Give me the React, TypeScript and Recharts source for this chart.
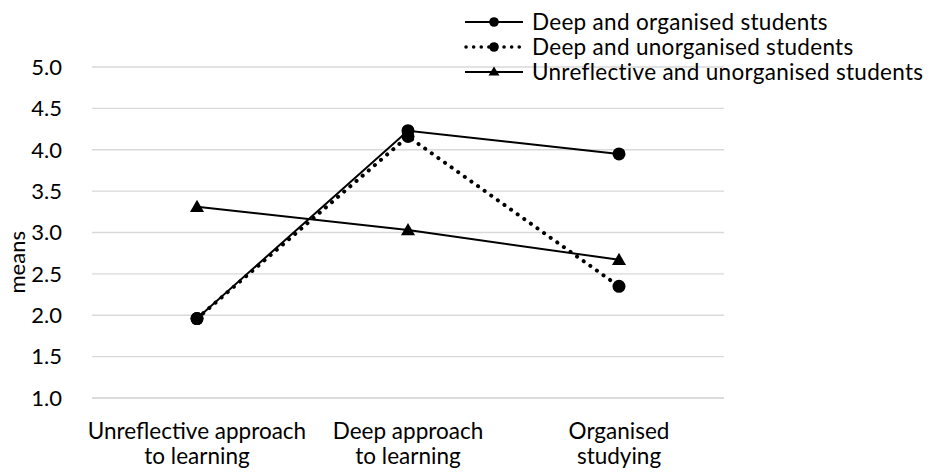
import React from 'react';
import { LineChart, Line, XAxis, YAxis, CartesianGrid } from 'recharts';

const categories = [
  ['Unreflective approach', 'to learning'],
  ['Deep approach', 'to learning'],
  ['Organised', 'studying'],
];
const deepOrganised = [1.96, 4.23, 3.95];
const deepUnorganised = [1.96, 4.16, 2.35];
const unreflectiveUnorganised = [3.31, 3.03, 2.67];
const yTicks = [1.0, 1.5, 2.0, 2.5, 3.0, 3.5, 4.0, 4.5, 5.0];

const seriesNames = [
  'Deep and organised students',
  'Deep and unorganised students',
  'Unreflective and unorganised students',
];

const data = categories.map((c, i) => ({
  key: String(i),
  a: deepOrganised[i],
  b: deepUnorganised[i],
  c: unreflectiveUnorganised[i],
}));

const FONT = 'Lato, "Open Sans", sans-serif';

const Circle = (props: any) => {
  const { cx, cy } = props;
  if (cx == null || cy == null) return null;
  return <circle cx={cx} cy={cy} r={6.5} fill="#000" />;
};

const Triangle = (props: any) => {
  const { cx, cy } = props;
  if (cx == null || cy == null) return null;
  const s = 7;
  return <path d={`M${cx},${cy - s} L${cx + s},${cy + s * 0.75} L${cx - s},${cy + s * 0.75} Z`} fill="#000" />;
};

const XTick = (props: any) => {
  const { x, y, payload } = props;
  const lines = categories[Number(payload.value)];
  return (
    <text x={x} y={y} textAnchor="middle" fill="#000" fontSize={22.5} fontFamily={FONT}>
      {lines.map((l, i) => (
        <tspan key={i} x={x} dy={i === 0 ? 33 : 25}>{l}</tspan>
      ))}
    </text>
  );
};

// legend drawn on top of the chart, like the original's overlapping box
const ChartLegend = () => (
  <div style={{ position: 'absolute', left: 463, top: 9, fontFamily: FONT, fontSize: 22.5, letterSpacing: 0.3, color: '#000' }}>
    {seriesNames.map((n, i) => (
      <div key={n} style={{ display: 'flex', alignItems: 'center', height: 25, whiteSpace: 'nowrap' }}>
        <svg width={62} height={20} style={{ marginRight: 7 }}>
          {i === 1 ? (
            <line x1={3} y1={10} x2={58} y2={10} stroke="#000" strokeWidth={3.5} strokeDasharray="0.1 7.5" strokeLinecap="round" />
          ) : (
            <line x1={2} y1={10} x2={60} y2={10} stroke="#000" strokeWidth={2} />
          )}
          {i === 2 ? (
            <path d="M31,4.5 L36.5,13.5 L25.5,13.5 Z" fill="#000" />
          ) : (
            <circle cx={31} cy={10} r={4.8} fill="#000" />
          )}
        </svg>
        <span>{n}</span>
      </div>
    ))}
  </div>
);

export default function App() {
  return (
    <div style={{ position: 'absolute', left: 0, top: 0, width: 930, height: 474, background: '#fff' }}>
      <LineChart width={930} height={474} data={data} margin={{ top: 67, right: 206, left: 0, bottom: 0 }}>
        <CartesianGrid vertical={false} stroke="#d9d9d9" strokeWidth={1.3} />
        <XAxis
          dataKey="key"
          height={76}
          padding={{ left: 105, right: 105 }}
          axisLine={{ stroke: '#d9d9d9', strokeWidth: 1.3 }}
          tickLine={false}
          tick={<XTick />}
          interval={0}
        />
        <YAxis
          width={92}
          domain={[1, 5]}
          ticks={yTicks}
          tickFormatter={(v: number) => v.toFixed(1)}
          axisLine={false}
          tickLine={false}
          tickSize={0}
          tickMargin={30}
          tick={{ fill: '#000', fontSize: 22, fontFamily: FONT }}
          label={{ value: 'means', angle: -90, position: 'insideLeft', dx: 12, dy: 61, fill: '#000', fontSize: 22, fontFamily: FONT }}
        />
        <Line
          dataKey="c"
          name={seriesNames[2]}
          stroke="#000"
          strokeWidth={2}
          dot={<Triangle />}
          activeDot={false}
          isAnimationActive={false}
        />
        <Line
          dataKey="b"
          name={seriesNames[1]}
          stroke="#000"
          strokeWidth={4}
          strokeDasharray="0.1 8"
          strokeLinecap="round"
          dot={<Circle />}
          activeDot={false}
          isAnimationActive={false}
        />
        <Line
          dataKey="a"
          name={seriesNames[0]}
          stroke="#000"
          strokeWidth={2}
          dot={<Circle />}
          activeDot={false}
          isAnimationActive={false}
        />
      </LineChart>
      <ChartLegend />
    </div>
  );
}
